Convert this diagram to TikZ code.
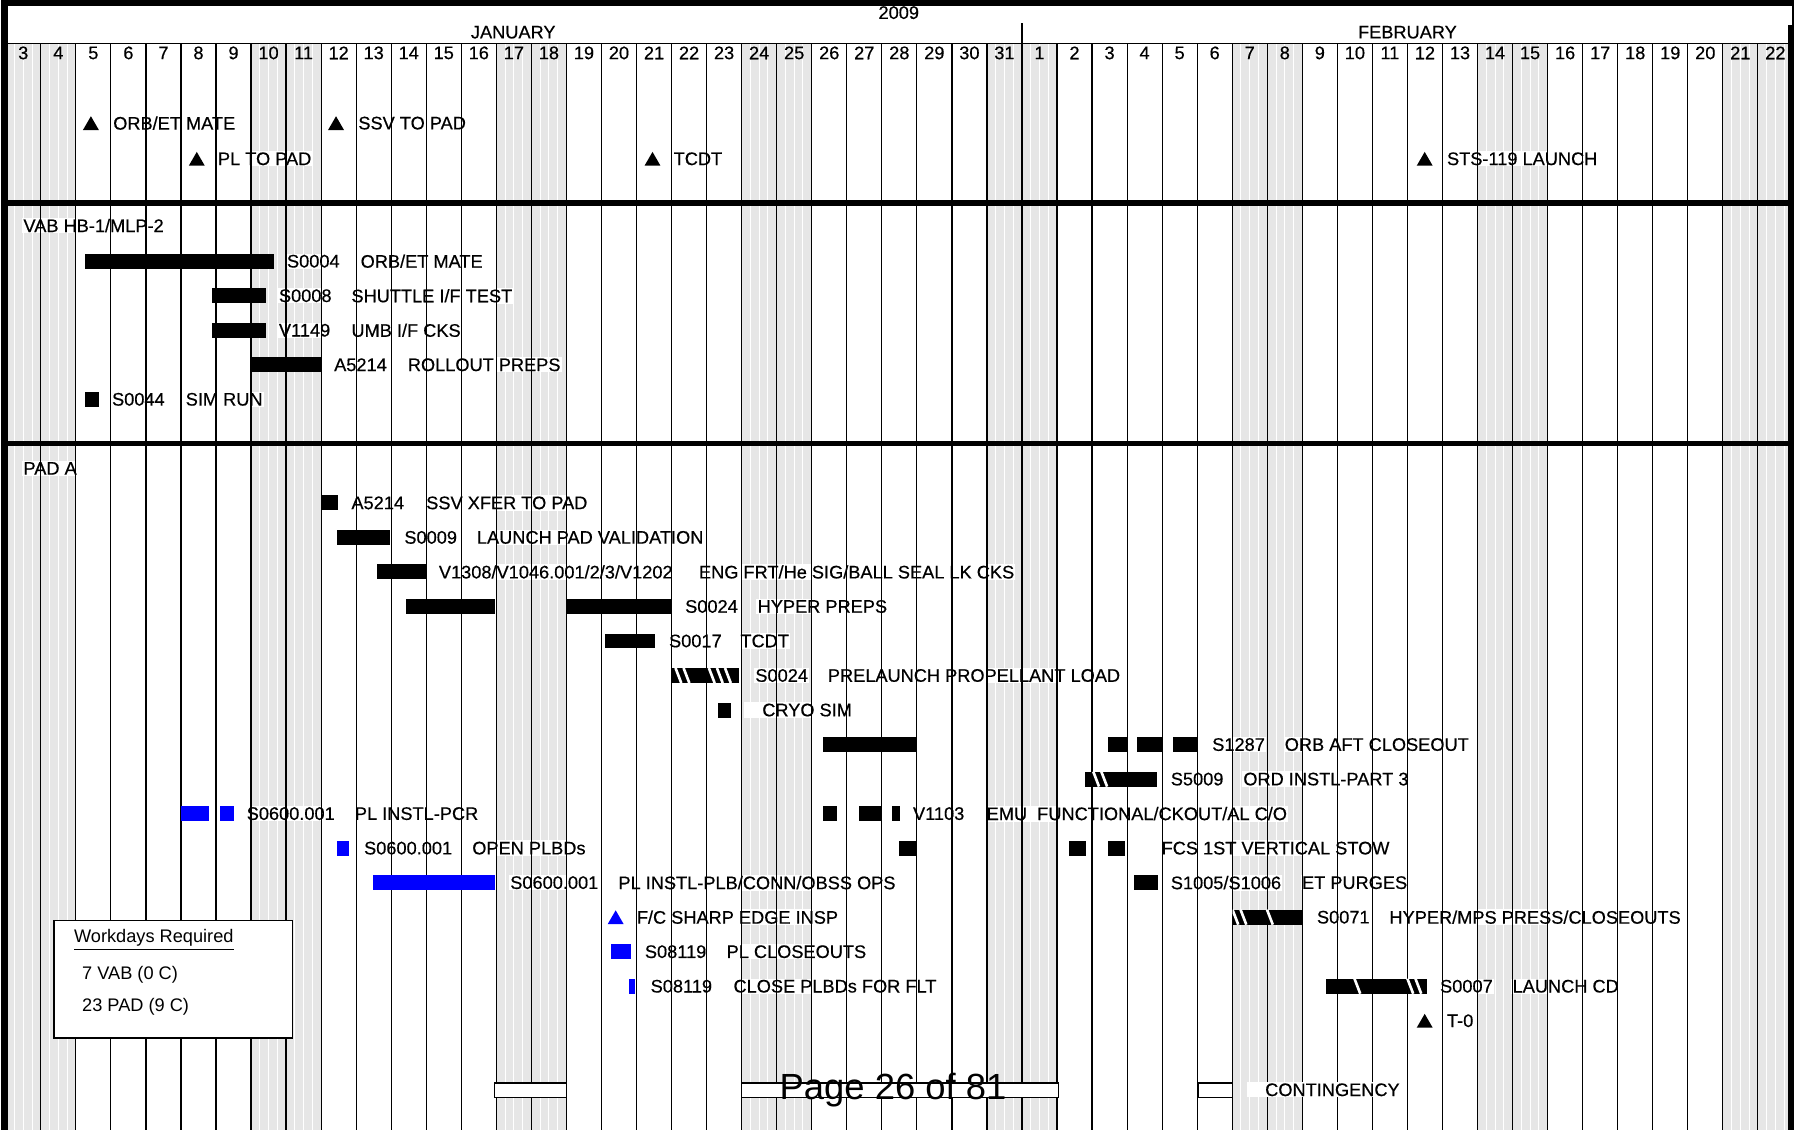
\documentclass[tikz,border=0pt]{standalone}
\usepackage{fontspec}
\setmainfont{Liberation Sans}
\newfontfamily\lblfont[FakeBold=0.45]{Liberation Sans}
\usetikzlibrary{shapes.geometric}

\definecolor{wkgray}{RGB}{230,230,230}
\definecolor{plblue}{RGB}{0,0,255}

\tikzset{
	lbl/.style={anchor=west, fill=white, inner sep=0.6pt, font=\lblfont\fontsize{9}{10}\selectfont},
	daynum/.style={inner sep=0pt, font=\lblfont\fontsize{9}{10}\selectfont},
	legtext/.style={anchor=west, fill=white, inner sep=0.6pt, font=\fontsize{9}{10}\selectfont},
	bar/.style={fill=black},
	plbar/.style={fill=plblue},
	tri/.style={regular polygon, regular polygon sides=3, fill=black, inner sep=0pt, minimum size=0.32cm},
	contbox/.style={fill=white, draw=black, line width=0.6pt},
	hatchline/.style={white, line width=1.3pt},
	gridline/.style={black, line width=0.6pt},
	sepline/.style={black, line width=2.8pt}
}

\begin{document}
\begin{tikzpicture}[x=0.02cm, y=-0.02cm]
\useasboundingbox (0,0) rectangle (1565,982);

% weekend columns
\foreach \i in {0,1,7,8,14,15,21,22,28,29,35,36,42,43,49,50} {
	\fill[wkgray] ({5+30.45*\i},38) rectangle ({5+30.45*(\i+1)},982);
	\foreach \f in {0.25,0.5,0.75}
		\draw[white, line width=0.5pt] ({5+30.45*(\i+\f)},38) -- ({5+30.45*(\i+\f)},982);
}

% header
\node[daynum] (year) at (781,11) {2009};
\node[daynum] (jan) at (446,28) {JANUARY};
\node[daynum] (feb) at (1223,28) {FEBRUARY};
\foreach \d in {3,...,31}
	\node[daynum] (jan\d) at ({5+30.45*(\d-3+0.5)},46) {\d};
\foreach \d in {1,...,22}
	\node[daynum] (feb\d) at ({5+30.45*(\d+28+0.5)},46) {\d};

% milestones
\node[lbl] (orbet) at (97,107) {ORB/ET MATE};
\node[lbl] (ssvpad) at (310,107) {SSV TO PAD};
\node[lbl] (plpad) at (188,138) {PL TO PAD};
\node[lbl] (tcdt) at (584,138) {TCDT};
\node[lbl] (launch) at (1256,138) {STS-119 LAUNCH};

% VAB HB-1/MLP-2 labels
\node[lbl] (vab) at (19,196) {VAB HB-1/MLP-2};
\node[lbl] (s0004) at (248,227) {S0004};
\node[lbl] (s0004d) at (312,227) {ORB/ET MATE};
\node[lbl] (s0008) at (241,257) {S0008};
\node[lbl] (s0008d) at (304,257) {SHUTTLE I/F TEST};
\node[lbl] (v1149) at (241,287) {V1149};
\node[lbl] (v1149d) at (304,287) {UMB I/F CKS};
\node[lbl] (a5214r) at (289,317) {A5214};
\node[lbl] (a5214rd) at (353,317) {ROLLOUT PREPS};
\node[lbl] (s0044) at (96,347) {S0044};
\node[lbl] (s0044d) at (160,347) {SIM RUN};

% PAD A labels
\node[lbl] (pada) at (19,407) {PAD A};
\node[lbl] (a5214x) at (304,437) {A5214};
\node[lbl] (a5214xd) at (369,437) {SSV XFER TO PAD};
\node[lbl] (s0009) at (350,467) {S0009};
\node[lbl] (s0009d) at (413,467) {LAUNCH PAD VALIDATION};
\node[lbl] (v1308) at (380,497) {V1308/V1046.001/2/3/V1202};
\node[lbl] (v1308d) at (606,497) {ENG FRT/He SIG/BALL SEAL LK CKS};
\node[lbl] (s0024h) at (594,527) {S0024};
\node[lbl] (s0024hd) at (657,527) {HYPER PREPS};
\node[lbl] (s0017) at (580,557) {S0017};
\node[lbl] (s0017d) at (642,557) {TCDT};
\node[lbl] (s0024p) at (655,587) {S0024};
\node[lbl] (s0024pd) at (718,587) {PRELAUNCH PROPELLANT LOAD};
\node[lbl] (cryo) at (646,617) {\hspace*{0.3cm}CRYO SIM};
\node[lbl] (s1287) at (1052,647) {S1287};
\node[lbl] (s1287d) at (1115,647) {ORB AFT CLOSEOUT};
\node[lbl] (s5009) at (1016,677) {S5009};
\node[lbl] (s5009d) at (1079,677) {ORD INSTL-PART 3};
\node[lbl] (pcr) at (213,707) {S0600.001};
\node[lbl] (pcrd) at (307,707) {PL INSTL-PCR};
\node[lbl] (v1103) at (792,707) {V1103};
\node[lbl] (v1103d) at (856,707) {EMU\ \ FUNCTIONAL/CKOUT/AL C/O};
\node[lbl] (plbd) at (315,737) {S0600.001};
\node[lbl] (plbdd) at (409,737) {OPEN PLBDs};
\node[lbl] (fcs) at (1008,737) {FCS 1ST VERTICAL STOW};
\node[lbl] (obss) at (442,767) {S0600.001};
\node[lbl] (obssd) at (536,767) {PL INSTL-PLB/CONN/OBSS OPS};
\node[lbl] (s1005) at (1016,767) {S1005/S1006};
\node[lbl] (s1005d) at (1130,767) {ET PURGES};
\node[lbl] (sharp) at (552,797) {F/C SHARP EDGE INSP};
\node[lbl] (s0071) at (1143,797) {S0071};
\node[lbl] (s0071d) at (1206,797) {HYPER/MPS PRESS/CLOSEOUTS};
\node[lbl] (plco) at (559,827) {S08119};
\node[lbl] (plcod) at (630,827) {PL CLOSEOUTS};
\node[lbl] (flt) at (564,857) {S08119};
\node[lbl] (fltd) at (636,857) {CLOSE PLBDs FOR FLT};
\node[lbl] (s0007) at (1250,857) {S0007};
\node[lbl] (s0007d) at (1313,857) {LAUNCH CD};
\node[lbl] (tzero) at (1256,887) {T-0};

% day grid
\foreach \i in {1,...,50}
	\draw[gridline] ({5+30.45*\i},38) -- ({5+30.45*\i},982);
\draw[gridline] (5,38) -- (1558,38);
\draw[gridline] (888,20) -- (888,38);

% frame and section lines
\fill[black] (1,0) rectangle (1559,5);
\fill[black] (1,0) rectangle (7,982);
\fill[black] (1554,22) rectangle (1559,982);
\draw[gridline] (1558,5) -- (1558,22);
\draw[sepline] (1,176.5) -- (1559,176.5);
\draw[sepline] (1,385.5) -- (1559,385.5);

% milestone triangles
\node[tri] (torbet) at (79,109) {};
\node[tri] (tssv) at (292,109) {};
\node[tri] (tpl) at (171,140) {};
\node[tri] (ttcdt) at (567,140) {};
\node[tri] (tlaunch) at (1238,140) {};

% VAB bars
\fill[bar] (74,220.5) rectangle (238,233.5);
\fill[bar] (184,250.5) rectangle (231,263.5);
\fill[bar] (184,280.5) rectangle (231,293.5);
\fill[bar] (217,310.5) rectangle (279,323.5);
\fill[bar] (74,340.5) rectangle (86,353.5);

% PAD A bars
\fill[bar] (279,430.5) rectangle (294,443.5);
\fill[bar] (293,460.5) rectangle (339,473.5);
\fill[bar] (328,490.5) rectangle (370,503.5);
\fill[bar] (353,520.5) rectangle (430,533.5);
\fill[bar] (492,520.5) rectangle (583,533.5);
\fill[bar] (526,550.5) rectangle (569,563.5);
\fill[bar] (624,610.5) rectangle (635,623.5);
\fill[bar] (715,640.5) rectangle (796,653.5);
\fill[bar] (963,640.5) rectangle (979,653.5);
\fill[bar] (988,640.5) rectangle (1010,653.5);
\fill[bar] (1019,640.5) rectangle (1041,653.5);
\fill[bar] (715,700.5) rectangle (727,713.5);
\fill[bar] (746,700.5) rectangle (766,713.5);
\fill[bar] (775,700.5) rectangle (782,713.5);
\fill[bar] (781,730.5) rectangle (796,743.5);
\fill[bar] (929,730.5) rectangle (944,743.5);
\fill[bar] (963,730.5) rectangle (978,743.5);
\fill[bar] (985,760.5) rectangle (1006,773.5);
\node[tri] (ttzero) at (1238,889) {};

% hatched bars
\fill[bar] (583,580.5) rectangle (642,593.5);
\begin{scope}
	\clip (583,580.5) rectangle (642,593.5);
	\foreach \x in {587,594,616,623,630}
		\draw[hatchline] (\x,580.5) -- ++(5,13);
\end{scope}
\fill[bar] (943,670.5) rectangle (1005,683.5);
\begin{scope}
	\clip (943,670.5) rectangle (1005,683.5);
	\foreach \x in {950,957}
		\draw[hatchline] (\x,670.5) -- ++(5,13);
\end{scope}
\fill[bar] (1071,790.5) rectangle (1131,803.5);
\begin{scope}
	\clip (1071,790.5) rectangle (1131,803.5);
	\foreach \x in {1071,1078,1101}
		\draw[hatchline] (\x,790.5) -- ++(5,13);
\end{scope}
\fill[bar] (1152,850.5) rectangle (1240,863.5);
\begin{scope}
	\clip (1152,850.5) rectangle (1240,863.5);
	\foreach \x in {1177,1223,1230}
		\draw[hatchline] (\x,850.5) -- ++(5,13);
\end{scope}

% payload (blue) bars
\fill[plbar] (157,700.5) rectangle (182,713.5);
\fill[plbar] (191,700.5) rectangle (203,713.5);
\fill[plbar] (293,730.5) rectangle (303,743.5);
\fill[plbar] (324,760.5) rectangle (430,773.5);
\node[tri, fill=plblue] (tsharp) at (535,799) {};
\fill[plbar] (531,820.5) rectangle (548,833.5);
\fill[plbar] (547,850.5) rectangle (552,863.5);

% workdays box
\draw[fill=white, line width=0.6pt] (47,800) rectangle (254,902);
\node[legtext] (wdays) at (63,817) {\underline{Workdays Required}};
\node[legtext] (wvab) at (70,847) {7 VAB (0 C)};
\node[legtext] (wpad) at (70,875) {23 PAD (9 C)};

% contingency
\draw[contbox] (430,941) rectangle (492,954);
\draw[contbox] (644,941) rectangle (920,954);
\draw[contbox] (1041,941) rectangle (1071,954);
\node[lbl] (contg) at (1083,947) {\hspace*{0.3cm}CONTINGENCY};

\node[inner sep=0pt, font=\fontsize{18}{20}\selectfont] (pagenum) at (776,947) {Page 26 of 81};

\end{tikzpicture}
\end{document}
